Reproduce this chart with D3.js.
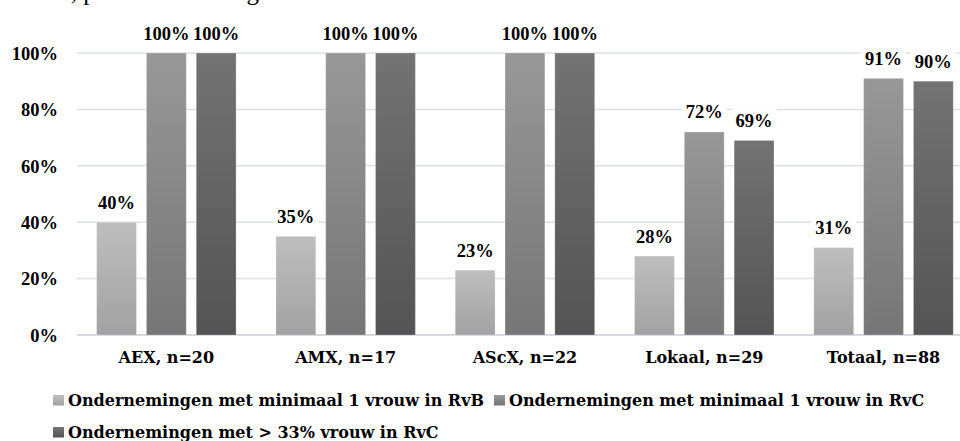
<!DOCTYPE html>
<html>
<head>
<meta charset="utf-8">
<script src="https://cdn.jsdelivr.net/npm/d3@7"></script>
<style>
  html, body { margin: 0; padding: 0; background: #ffffff; }
  svg { display: block; }
</style>
</head>
<body>
<svg id="chart" width="960" height="441"></svg>
<script>
// ---- data ----
const categories = ["AEX, n=20", "AMX, n=17", "AScX, n=22", "Lokaal, n=29", "Totaal, n=88"];
const seriesNames = [
  "Ondernemingen met minimaal 1 vrouw in RvB",
  "Ondernemingen met minimaal 1 vrouw in RvC",
  "Ondernemingen met > 33% vrouw in RvC"
];
const rvbMin1 = [0.40, 0.35, 0.23, 0.28, 0.31];
const rvcMin1 = [1.00, 1.00, 1.00, 0.72, 0.91];
const rvc33   = [1.00, 1.00, 1.00, 0.69, 0.90];
const yTicks  = [0, 0.2, 0.4, 0.6, 0.8, 1.0];
const titleText = "Vrouwen in de raden, per beursnotering";

const seriesValues = [rvbMin1, rvcMin1, rvc33];
const gradStops = [
  ["#bebebe", "#a2a2a2"],
  ["#989898", "#767676"],
  ["#737373", "#545454"]
];

const svg = d3.select("#chart");
const defs = svg.append("defs");
gradStops.forEach((s, i) => {
  const g = defs.append("linearGradient")
    .attr("id", "grad" + i)
    .attr("x1", 0).attr("y1", 0).attr("x2", 0).attr("y2", 1);
  g.append("stop").attr("offset", "0%").attr("stop-color", s[0]);
  g.append("stop").attr("offset", "100%").attr("stop-color", s[1]);
});

const numFont = "'Liberation Serif', 'Times New Roman', serif";
const txtFont = "'DejaVu Serif', serif";

// title (cut off at top, only descenders visible)
svg.append("text")
  .attr("x", 259).attr("y", -0.5)
  .attr("text-anchor", "end")
  .style("font-family", numFont)
  .style("font-size", "25px")
  .attr("fill", "#000")
  .text(titleText);

// scales
const x0 = d3.scaleBand().domain(categories).range([76.7, 973.2]).paddingInner(0).paddingOuter(0);
const x1 = d3.scaleBand().domain(d3.range(seriesNames.length))
  .range([0, x0.bandwidth()]).paddingInner(0.2).paddingOuter(0.4);
const y = d3.scaleLinear().domain([0, 1]).range([335, 53]);

// gridlines
const grid = svg.append("g");
grid.selectAll("line").data(yTicks).join("line")
  .attr("x1", 77).attr("x2", 960)
  .attr("y1", d => y(d)).attr("y2", d => y(d))
  .attr("stroke", d => d === 0 ? "#d6d9df" : "#dde0e6")
  .attr("stroke-width", d => d === 0 ? 2 : 1.5);

// y axis labels
const yAxis = d3.axisLeft(y).tickValues(yTicks).tickFormat(d3.format(".0%")).tickSize(0).tickPadding(0);
const yg = svg.append("g").attr("transform", "translate(58,0)").call(yAxis);
yg.select(".domain").remove();
yg.selectAll("text")
  .style("font-family", numFont).style("font-size", "18.5px").style("font-weight", "bold")
  .attr("fill", "#000").attr("dy", "0.34em");

// bars
const groups = svg.append("g").selectAll("g").data(categories).join("g")
  .attr("transform", d => `translate(${x0(d)},0)`);

const barData = (c, ci) => seriesValues.map((vals, si) => ({ si, v: vals[ci] }));

groups.selectAll("rect.bar").data((c, ci) => barData(c, ci)).join("rect")
  .attr("class", "bar")
  .attr("x", d => x1(d.si))
  .attr("width", x1.bandwidth())
  .attr("y", d => y(d.v))
  .attr("height", d => y(0) - y(d.v))
  .attr("fill", d => `url(#grad${d.si})`)
  .attr("stroke", "#ffffff").attr("stroke-opacity", 0.25).attr("stroke-width", 1);

// data labels with white background
const lab = groups.selectAll("g.lab").data((c, ci) => barData(c, ci)).join("g").attr("class", "lab");
lab.append("rect").attr("class", "bg").attr("fill", "#ffffff");
lab.append("text")
  .attr("x", d => x1(d.si) + x1.bandwidth() / 2)
  .attr("y", d => y(d.v) - 13.5)
  .attr("text-anchor", "middle")
  .style("font-family", numFont).style("font-size", "18.5px").style("font-weight", "bold")
  .attr("fill", "#000")
  .text(d => d3.format(".0%")(d.v));
lab.each(function() {
  const t = d3.select(this).select("text").node();
  const b = t.getBBox();
  d3.select(this).select("rect")
    .attr("x", b.x - 4).attr("y", b.y - 2)
    .attr("width", b.width + 8).attr("height", b.height + 4);
});

// x axis labels
const xAxis = d3.axisBottom(x0).tickSize(0).tickPadding(0);
const xg = svg.append("g").attr("transform", "translate(0,363)").call(xAxis);
xg.select(".domain").remove();
xg.selectAll("text")
  .attr("dy", 0).attr("y", 0)
  .style("font-family", txtFont).style("font-size", "16px").style("font-weight", "bold")
  .attr("fill", "#000");

// legend
const legend = svg.append("g");
const legendRows = [[0, 1], [2]];
const rowBase = [406, 438];
legendRows.forEach((row, ri) => {
  let xPos = 53;
  row.forEach(si => {
    legend.append("rect")
      .attr("x", xPos).attr("y", rowBase[ri] - 11)
      .attr("width", 11).attr("height", 10.5)
      .attr("fill", `url(#grad${si})`);
    const t = legend.append("text")
      .attr("x", xPos + 15).attr("y", rowBase[ri])
      .style("font-family", txtFont).style("font-size", "16px").style("font-weight", "bold")
      .attr("fill", "#000")
      .text(seriesNames[si]);
    xPos = xPos + 15 + t.node().getComputedTextLength() + 10;
  });
});
</script>
</body>
</html>
